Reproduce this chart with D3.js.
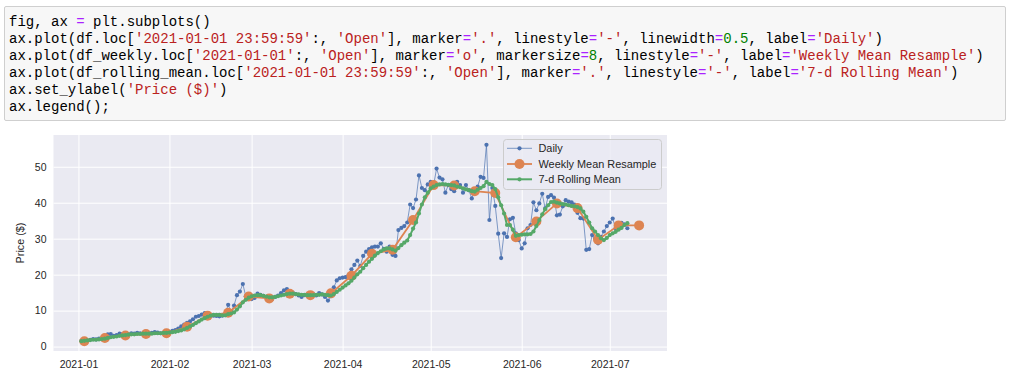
<!DOCTYPE html>
<html><head><meta charset="utf-8">
<script src="https://cdn.jsdelivr.net/npm/d3@7"></script>
<style>
html,body{margin:0;padding:0;background:#fff;width:1018px;height:381px;overflow:hidden;position:relative}
#cell{position:absolute;left:4px;top:6px;width:1002px;height:115px;background:#f7f7f7;border:1px solid #cfcfcf;border-radius:2px;box-sizing:border-box}
#cell pre{margin:0;position:absolute;left:4px;top:7px;font:14px/16.9px 'Liberation Mono','Courier New',monospace;color:#000}
.op{color:#aa22ff}.st{color:#ba2121}.nu{color:#008000}
svg{position:absolute;left:0;top:0}
</style></head><body>
<div id="cell"><pre id="code"></pre></div>
<svg id="chart" width="1018" height="381"></svg>
<script>
// ---------- code cell tokens ----------
const codeLines = [
  [["fig, ax ",""],["=","op"],[" plt.subplots()",""]],
  [["ax.plot(df.loc[",""],["'2021-01-01 23:59:59'","st"],[":, ",""],["'Open'","st"],["], marker",""],["=","op"],["'.'","st"],[", linestyle",""],["=","op"],["'-'","st"],[", linewidth",""],["=","op"],["0.5","nu"],[", label",""],["=","op"],["'Daily'","st"],[")",""]],
  [["ax.plot(df_weekly.loc[",""],["'2021-01-01'","st"],[":, ",""],["'Open'","st"],["], marker",""],["=","op"],["'o'","st"],[", markersize",""],["=","op"],["8","nu"],[", linestyle",""],["=","op"],["'-'","st"],[", label",""],["=","op"],["'Weekly Mean Resample'","st"],[")",""]],
  [["ax.plot(df_rolling_mean.loc[",""],["'2021-01-01 23:59:59'","st"],[":, ",""],["'Open'","st"],["], marker",""],["=","op"],["'.'","st"],[", linestyle",""],["=","op"],["'-'","st"],[", label",""],["=","op"],["'7-d Rolling Mean'","st"],[")",""]],
  [["ax.set_ylabel(",""],["'Price ($)'","st"],[")",""]],
  [["ax.legend();",""]]
];

// ---------- data ----------
const dailyStart = "2021-01-02";
const dailyOpen = [
 1.6,1.7,1.6,1.9,2.1,2.0,2.2,2.3,2.6,3.4,
 3.5,3.0,3.2,3.6,3.5,3.3,3.4,3.7,3.6,3.8,
 3.7,3.5,3.6,3.7,3.8,4.0,3.9,3.7,3.8,3.9,
 4.1,4.4,4.6,5.0,5.6,6.1,6.6,7.0,7.6,8.3,
 8.5,8.9,9.3,9.2,8.8,8.6,8.5,8.4,8.6,9.1,
 11.6,9.8,11.4,14.3,15.3,17.4,14.0,13.5,
 13.2,13.5,14.7,14.4,14.1,13.6,13.0,13.2,13.8,14.2,14.9,
 15.6,16.0,15.3,15.0,14.6,14.2,13.8,14.3,14.5,14.4,14.6,
 14.2,14.9,14.5,13.8,12.8,14.0,16.5,18.4,19.0,
 19.2,19.3,19.8,21.5,22.7,23.9,22.4,25.2,26.4,27.1,27.6,
 27.8,27.8,28.7,27.2,26.4,27.8,25.5,25.2,32.4,33.0,
 33.5,34.5,39.5,38.5,40.9,47.6,44.1,43.5,45.1,45.8,
 44.9,49.5,47.0,46.5,42.8,44.9,43.8,43.2,45.8,44.9,
 42.8,44.9,43.5,41.2,43.8,44.5,47.2,46.9,56.1,35.2,
 44.1,39.1,31.4,24.6,31.5,30.5,35.4,35.8,31.5,29.6,
 27.3,28.7,32.9,33.8,40.1,37.9,39.8,42.5,38.4,41.6,
 42.1,41.4,36.5,36.7,39.0,40.7,40.3,40.1,39.5,37.2,
 35.7,35.6,26.9,27.1,31.0,30.0,28.7,30.5,32.0,33.5,
 34.5,35.6,32.9,33.5,34.4,34.0,32.9
];
const weeklyStart = "2021-01-03";
const weeklyOpen = [
 1.5,2.4,3.1,3.5,3.7,5.5,8.6,9.4,13.9,13.4,14.7,14.3,14.8,19.7,
 25.8,26.9,35.2,44.9,44.8,43.2,42.7,30.4,34.8,39.8,38.5,29.7,33.7,33.7
];
const rollingOpen = [
 1.5,1.6,1.7,1.8,1.9,1.9,2.0,2.1,2.2,2.4,
 2.6,2.7,2.8,3.0,3.1,3.2,3.3,3.4,3.4,3.5,
 3.5,3.6,3.6,3.6,3.6,3.7,3.7,3.7,3.8,3.8,
 3.9,4.0,4.1,4.3,4.5,4.8,5.2,5.6,6.0,6.5,
 7.0,7.5,7.9,8.3,8.6,8.8,8.8,8.8,8.7,8.7,
 9.0,9.2,9.5,10.3,11.2,12.3,13.0,13.6,14.0,14.2,
 14.3,14.3,14.1,13.9,13.7,13.7,13.8,14.0,14.2,14.4,
 14.6,14.7,14.7,14.6,14.5,14.4,14.4,14.3,14.3,14.3,
 14.4,14.4,14.5,14.4,14.3,14.2,14.6,15.2,15.8,16.4,
 17.0,17.6,18.3,19.2,20.1,20.8,21.8,22.7,23.6,24.4,
 25.3,26.0,26.5,27.0,27.3,27.3,27.0,26.7,27.4,28.2,
 28.9,29.5,31.0,32.8,34.5,37.0,39.5,41.5,42.8,44.0,
 44.5,44.9,45.1,45.2,45.1,45.0,44.9,44.8,44.5,44.3,
 44.0,43.7,43.5,43.2,43.1,43.6,44.1,44.6,45.8,45.2,
 44.9,43.8,41.5,39.3,37.0,33.8,33.8,32.5,30.8,31.0,
 31.1,31.2,31.2,31.3,32.0,33.5,35.2,36.8,38.2,39.3,
 40.2,40.3,40.0,39.8,39.6,39.5,39.3,39.1,39.0,38.8,
 38.4,37.5,36.1,34.5,32.9,32.0,31.0,30.1,29.6,30.2,
 31.0,31.5,31.9,32.5,33.0,33.8,34.3
];
const monthTicks = ["2021-01","2021-02","2021-03","2021-04","2021-05","2021-06","2021-07"];
const yTicks = [0,10,20,30,40,50];
const seriesLabels = ["Daily","Weekly Mean Resample","7-d Rolling Mean"];
const yLabel = "Price ($)";

// ---------- code cell ----------
const pre = d3.select("#code");
codeLines.forEach((ln,i)=>{
  ln.forEach(([t,c])=>{ pre.append("span").attr("class",c||null).text(t); });
  if(i<codeLines.length-1) pre.append("span").text("\n");
});

// ---------- chart ----------
const parse = d3.utcParse("%Y-%m-%d");
const d0 = parse(dailyStart), w0 = parse(weeklyStart);
const dailyDates = dailyOpen.map((_,i)=>d3.utcDay.offset(d0,i));
const weeklyDates = weeklyOpen.map((_,i)=>d3.utcWeek.offset(w0,i));
const daily = dailyOpen.map((v,i)=>({d:dailyDates[i],v}));
const weekly = weeklyOpen.map((v,i)=>({d:weeklyDates[i],v}));
const rolling = rollingOpen.map((v,i)=>({d:dailyDates[i],v}));

const L=53.5,R=667,T=135,B=351;
const allDates=[...dailyDates,...weeklyDates];
const [xmin,xmax]=d3.extent(allDates);
const xspan=xmax-xmin;
const x=d3.scaleUtc().domain([new Date(+xmin-0.05*xspan),new Date(+xmax+0.05*xspan)]).range([L,R]);
const allV=[...dailyOpen,...weeklyOpen,...rollingOpen];
const [ymin,ymax]=d3.extent(allV); const ys=ymax-ymin;
const y=d3.scaleLinear().domain([ymin-0.05*ys,ymax+0.05*ys]).range([B,T]);

const svg=d3.select("#chart");
const font="'Liberation Sans',Arial,sans-serif";
svg.append("rect").attr("x",L).attr("y",T).attr("width",R-L).attr("height",B-T).attr("fill","#eaeaf2");

const mparse=d3.utcParse("%Y-%m");
const mDates=monthTicks.map(mparse);
const gx=svg.append("g").attr("transform",`translate(0,${B})`)
  .call(d3.axisBottom(x).tickValues(mDates).tickFormat(d3.utcFormat("%Y-%m")).tickSize(-(B-T)).tickPadding(10));
const gy=svg.append("g").attr("transform",`translate(${L},0)`)
  .call(d3.axisLeft(y).tickValues(yTicks).tickSize(-(R-L)).tickPadding(7));
[gx,gy].forEach(g=>{
  g.select(".domain").remove();
  g.selectAll(".tick line").attr("stroke","#fff").attr("stroke-width",1);
  g.selectAll(".tick text").attr("fill","#262626").attr("font-family",font).attr("font-size","10.5px");
});

svg.append("text").attr("transform",`translate(24,${(T+B)/2}) rotate(-90)`)
  .attr("text-anchor","middle").attr("font-family",font).attr("font-size","10.8px").attr("fill","#262626").text(yLabel);

const line=d3.line().x(p=>x(p.d)).y(p=>y(p.v));
const colors=["#4c72b0","#dd8452","#55a868"];
// daily
svg.append("path").datum(daily).attr("d",line).attr("fill","none").attr("stroke",colors[0]).attr("stroke-width",0.7);
svg.append("g").selectAll("circle").data(daily).join("circle").attr("cx",p=>x(p.d)).attr("cy",p=>y(p.v)).attr("r",2.1).attr("fill",colors[0]);
// weekly
svg.append("path").datum(weekly).attr("d",line).attr("fill","none").attr("stroke",colors[1]).attr("stroke-width",1.8);
svg.append("g").selectAll("circle").data(weekly).join("circle").attr("cx",p=>x(p.d)).attr("cy",p=>y(p.v)).attr("r",5).attr("fill",colors[1]);
// rolling
svg.append("path").datum(rolling).attr("d",line).attr("fill","none").attr("stroke",colors[2]).attr("stroke-width",2);
svg.append("g").selectAll("circle").data(rolling).join("circle").attr("cx",p=>x(p.d)).attr("cy",p=>y(p.v)).attr("r",2.1).attr("fill",colors[2]);

// legend
const lg=svg.append("g");
lg.append("rect").attr("x",503.5).attr("y",139.5).attr("width",158).attr("height",50).attr("rx",3)
  .attr("fill","#eaeaf2").attr("fill-opacity",0.8).attr("stroke","#cccccc").attr("stroke-width",1);
const rowsY=[148.3,164,179.3];
const lw=[0.7,1.8,2], mr=[2.1,5,2.1];
seriesLabels.forEach((s,i)=>{
  lg.append("line").attr("x1",507).attr("x2",532).attr("y1",rowsY[i]).attr("y2",rowsY[i]).attr("stroke",colors[i]).attr("stroke-width",lw[i]);
  lg.append("circle").attr("cx",519.5).attr("cy",rowsY[i]).attr("r",mr[i]).attr("fill",colors[i]);
  lg.append("text").attr("x",538.5).attr("y",rowsY[i]).attr("dy","0.36em").attr("font-family",font).attr("font-size","10.9px").attr("fill","#262626").text(s);
});
</script>
</body></html>
